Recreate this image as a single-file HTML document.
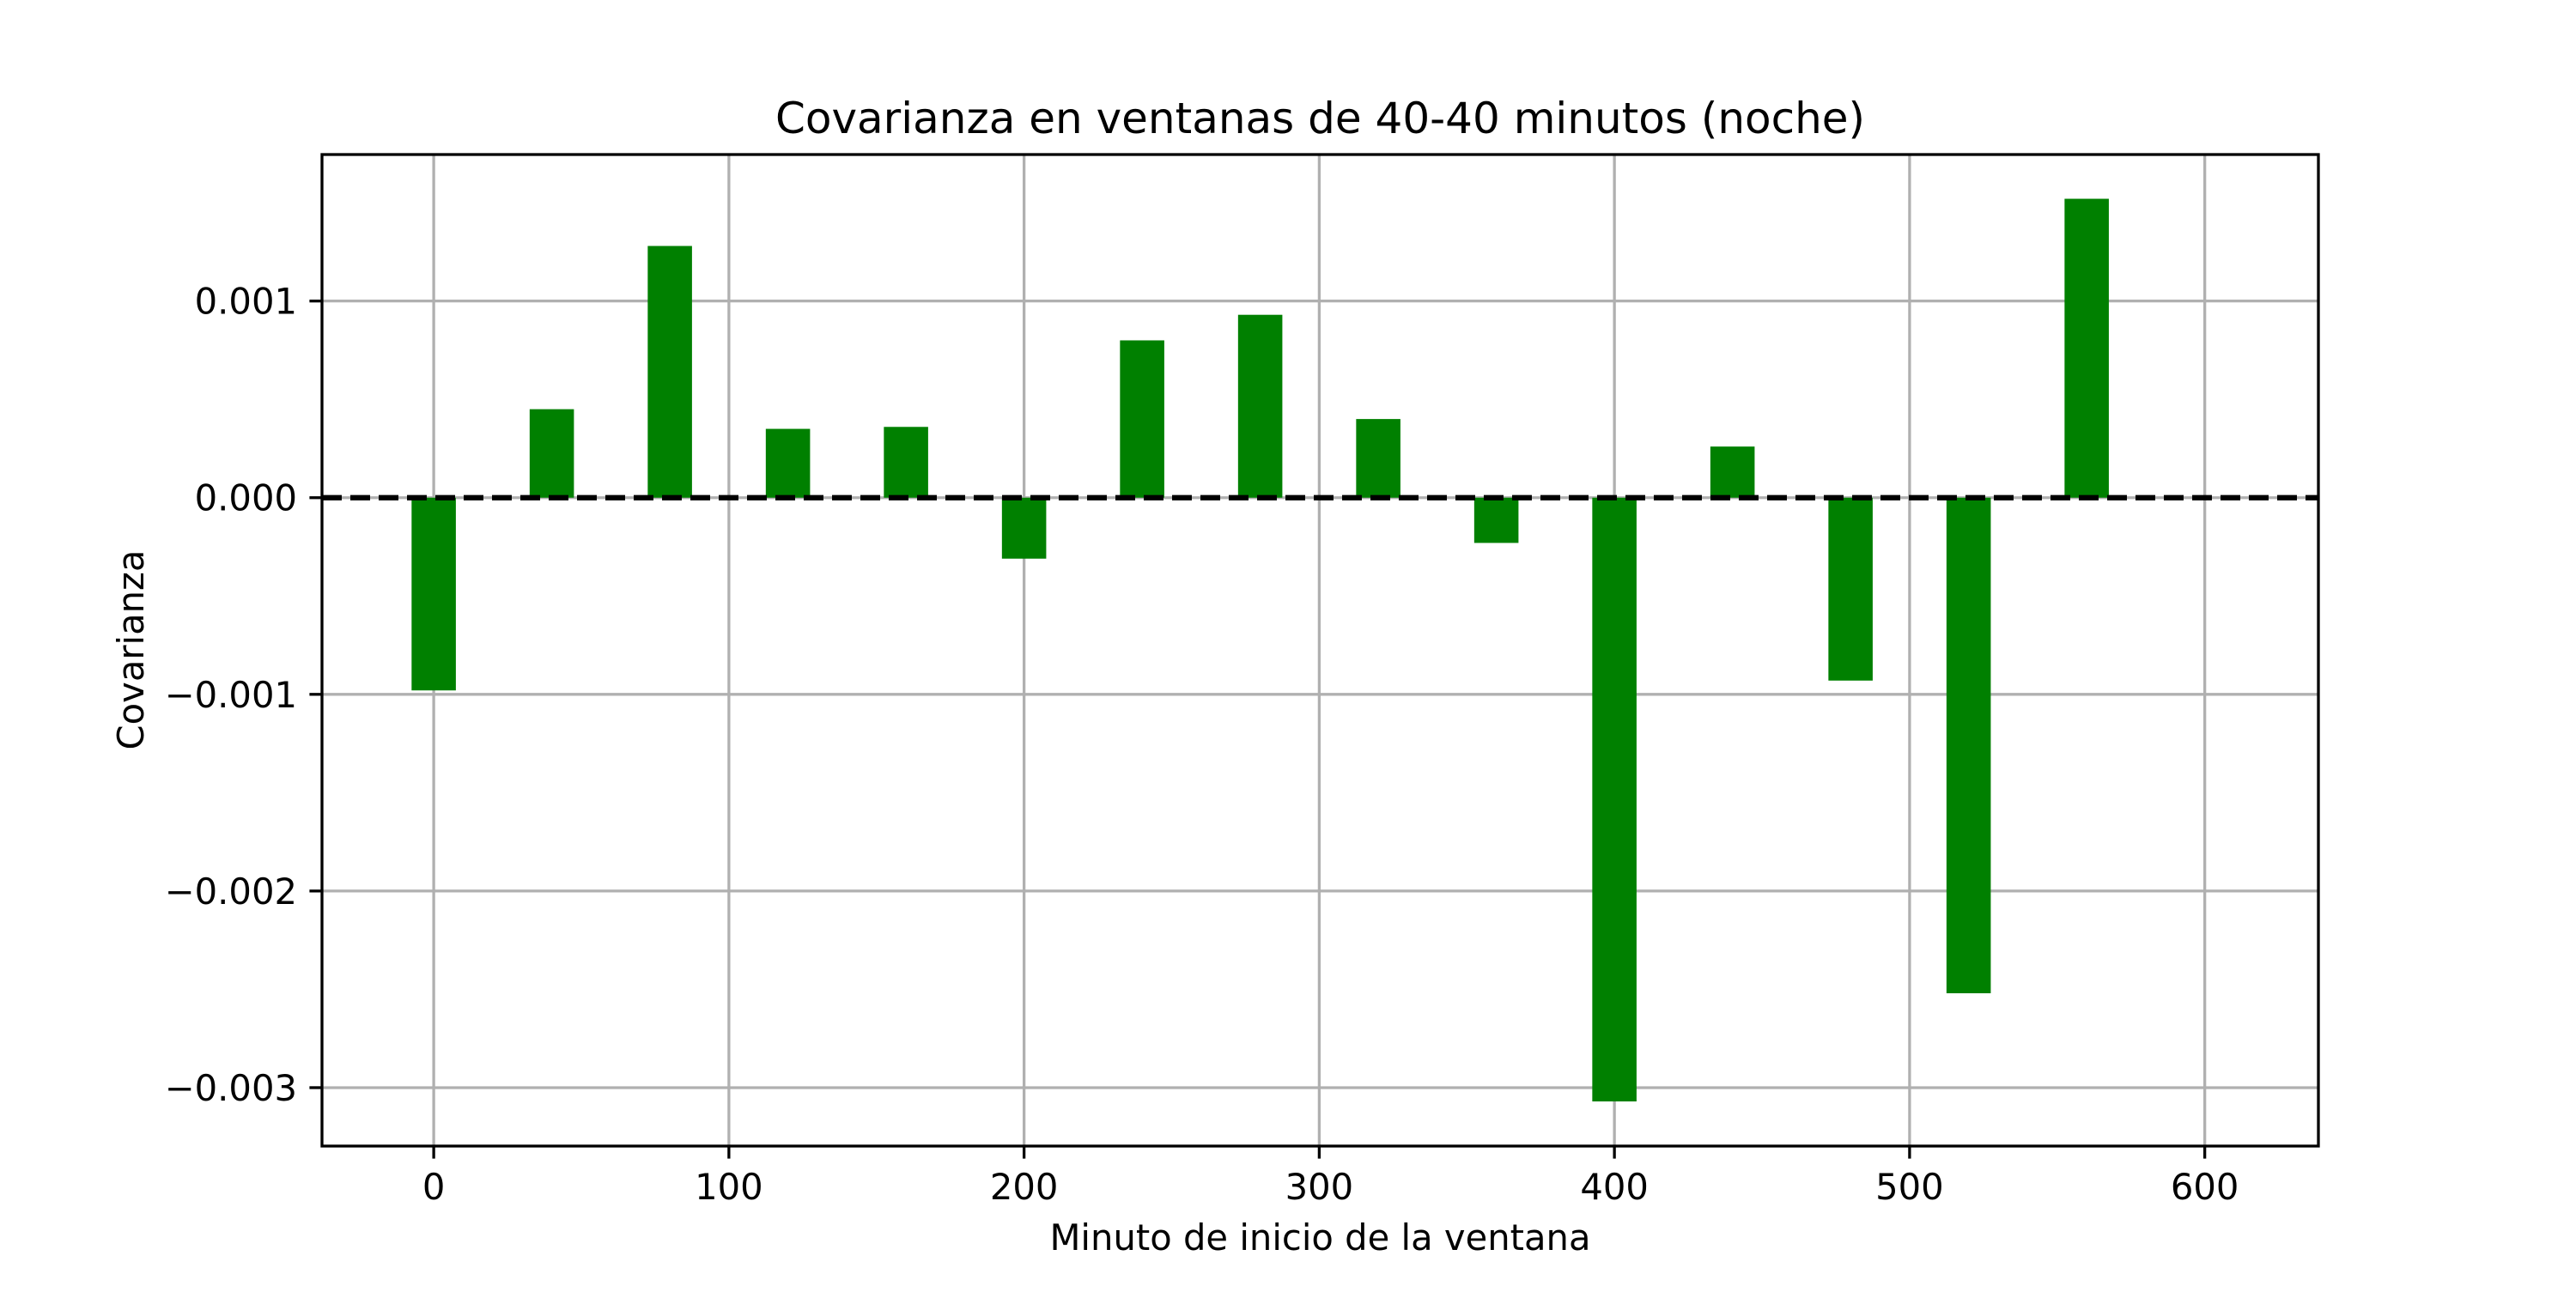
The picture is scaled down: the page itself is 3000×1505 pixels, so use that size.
<!DOCTYPE html>
<html><head><meta charset="utf-8"><style>
body{margin:0;background:#fff;}
svg text{font-family:"DejaVu Sans","Liberation Sans",sans-serif;fill:#000;}
</style></head><body>
<svg id="chart" width="3000" height="1500" viewBox="0 0 3000 1500" xmlns="http://www.w3.org/2000/svg">
<rect width="3000" height="1500" fill="#fff"/>
<g id="grid"></g><g id="bars"></g><g id="ticks"></g>
<text x="1537.5" y="155" font-size="50" text-anchor="middle">Covarianza en ventanas de 40-40 minutos (noche)</text>
<text x="1537.5" y="1456" font-size="41.7" text-anchor="middle">Minuto de inicio de la ventana</text>
<text x="0" y="0" font-size="41.7" text-anchor="middle" transform="translate(167,757) rotate(-90)">Covarianza</text>
</svg>
<script>
const categories=[0,40,80,120,160,200,240,280,320,360,400,440,480,520,560];
const values=[-0.00098,0.00045,0.00128,0.00035,0.00036,-0.00031,0.00080,0.00093,0.00040,-0.00023,-0.00307,0.00026,-0.00093,-0.00252,0.00152];
const xTicks=[0,100,200,300,400,500,600];
const yTicks=[-0.003,-0.002,-0.001,0,0.001];
const yTickLabels=["\u22120.003","\u22120.002","\u22120.001","0.000","0.001"];
const L=375,R=2700,T=180,B=1335;
const xmin=-37.85,xmax=638.5,ymin=-0.003297,ymax=0.001745;
const xs=v=>L+(v-xmin)/(xmax-xmin)*(R-L);
const ys=v=>B-(v-ymin)/(ymax-ymin)*(B-T);
const NS="http://www.w3.org/2000/svg";
function mk(p,tag,a){const e=document.createElementNS(NS,tag);for(const k in a)e.setAttribute(k,a[k]);p.appendChild(e);return e;}
const svg=document.getElementById('chart');
const grid=document.getElementById('grid'),bars=document.getElementById('bars'),ticks=document.getElementById('ticks');
xTicks.forEach(t=>{const x=xs(t);
const g=mk(grid,'line',{x1:x,x2:x,y1:T,y2:B,stroke:'#b0b0b0','stroke-width':3.3});


const tk=mk(ticks,'line',{x1:x,x2:x,y1:B,y2:B+14.6,stroke:'#000','stroke-width':3.3});


const lb=mk(ticks,'text',{x:x,y:B+62,'font-size':41.7,'text-anchor':'middle'});lb.textContent=t;

});
yTicks.forEach((t,i)=>{const y=ys(t);
const g=mk(grid,'line',{x1:L,x2:R,y1:y,y2:y,stroke:'#b0b0b0','stroke-width':3.3});


const tk=mk(ticks,'line',{x1:L-14.6,x2:L,y1:y,y2:y,stroke:'#000','stroke-width':3.3});


const lb=mk(ticks,'text',{x:L-29,y:y+15,'font-size':41.7,'text-anchor':'end'});lb.textContent=yTickLabels[i];

});
categories.forEach((c,i)=>{const x0=xs(c-7.5),x1=xs(c+7.5),y0=ys(0),y1=ys(values[i]);
const r=mk(bars,'rect',{x:x0,width:x1-x0,y:Math.min(y0,y1),height:Math.abs(y1-y0),fill:'#008000'});

});
const z=mk(bars,'line',{x1:L,x2:R,y1:ys(0),y2:ys(0),stroke:'#000','stroke-width':6.25,'stroke-dasharray':'23 10'});


const fr=mk(svg,'rect',{x:L,y:T,width:R-L,height:B-T,fill:'none',stroke:'#000','stroke-width':3.3});


</script>
</body></html>
